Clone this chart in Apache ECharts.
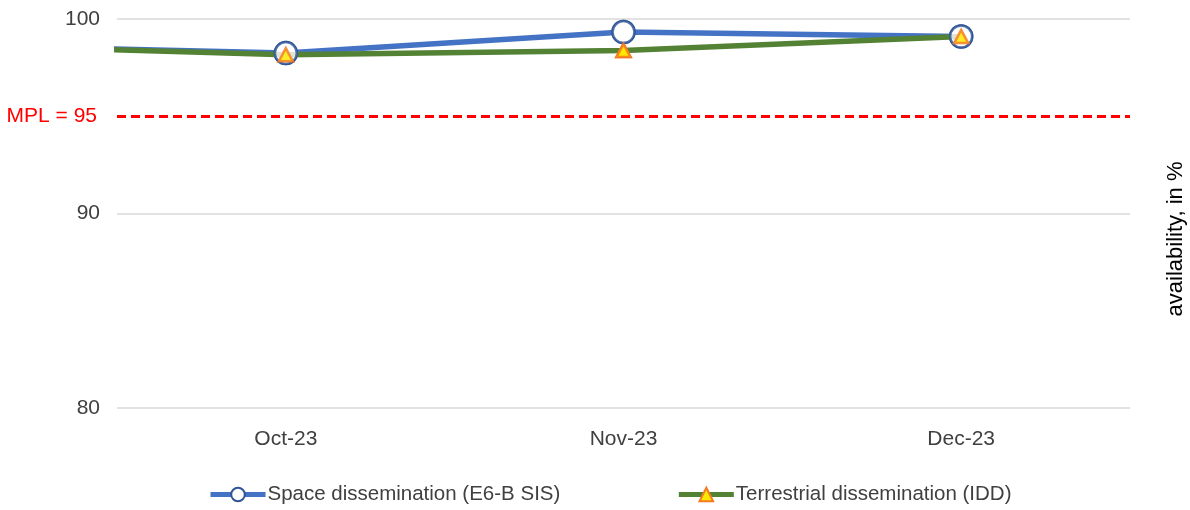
<!DOCTYPE html>
<html>
<head>
<meta charset="utf-8">
<script src="https://cdn.jsdelivr.net/npm/echarts@6/dist/echarts.min.js"></script>
<style>
html,body{margin:0;padding:0;background:#fff;}
#chart{width:1190px;height:510px;}
</style>
</head>
<body>
<div id="chart"></div>
<script>
// Periods: the first one (Sep-23) lies just outside the plotted window and is clipped
const periods = ['Sep-23', 'Oct-23', 'Nov-23', 'Dec-23'];
const shownCategories = ['Oct-23', 'Nov-23', 'Dec-23'];
const spaceValues = [98.65, 98.25, 99.33, 99.10];
const terrestrialValues = [98.68, 98.16, 98.38, 99.10];
const yTicks = [80, 90, 100];
const mplValue = 95;
const seriesNames = ['Space dissemination (E6-B SIS)', 'Terrestrial dissemination (IDD)'];

const FONT = '"Liberation Sans", Arial, sans-serif';
const TEXT = '#404040';

function toPoints(values) {
  const offset = periods.indexOf(shownCategories[0]);
  return values.map((v, i) => [i - offset, v]);
}
function shownPoints(values) {
  return toPoints(values).filter(p => p[0] >= 0);
}

const spaceSymbol = {
  symbol: 'circle',
  symbolSize: 22,
  itemStyle: { color: '#FFFFFF', borderColor: '#2F5597', borderWidth: 2.5 }
};
const terrSymbol = {
  symbol: 'triangle',
  symbolSize: [14, 13],
  itemStyle: { color: '#FFE800', borderColor: '#F47B20', borderWidth: 2.5 }
};

const chart = echarts.init(document.getElementById('chart'), null, { renderer: 'canvas' });
chart.setOption({
  animation: false,
  backgroundColor: '#FFFFFF',
  grid: { left: 117, right: 60, top: 19, bottom: 102, containLabel: false },
  xAxis: [
    {
      type: 'category',
      data: shownCategories,
      boundaryGap: true,
      axisLine: { show: false },
      axisTick: { show: false },
      splitLine: { show: false },
      axisLabel: { color: TEXT, fontSize: 21, fontFamily: FONT, margin: 21 }
    },
    {
      type: 'value',
      min: -0.5,
      max: shownCategories.length - 0.5,
      show: false,
      splitLine: { show: false }
    }
  ],
  yAxis: {
    type: 'value',
    min: yTicks[0],
    max: yTicks[yTicks.length - 1],
    interval: yTicks[1] - yTicks[0],
    axisLine: { show: false },
    axisTick: { show: false },
    axisLabel: { color: TEXT, fontSize: 21, fontFamily: FONT, margin: 17 },
    splitLine: { lineStyle: { color: '#D9D9D9', width: 1.5 } }
  },
  legend: {
    left: 203,
    top: 479,
    itemWidth: 55,
    itemHeight: 17,
    itemGap: 116,
    data: seriesNames,
    lineStyle: { width: 5 },
    textStyle: { color: TEXT, fontSize: 20.5, fontFamily: FONT, padding: [0, 0, 0, -3] }
  },
  graphic: [
    {
      type: 'text',
      x: 1176,
      y: 239,
      rotation: Math.PI / 2,
      style: {
        text: 'availability, in %',
        fill: '#000000',
        font: '22px ' + FONT,
        textAlign: 'center',
        textVerticalAlign: 'middle'
      }
    }
  ],
  series: [
    {
      name: seriesNames[0],
      type: 'line',
      xAxisIndex: 1,
      data: toPoints(spaceValues),
      clip: true,
      z: 2,
      ...spaceSymbol,
      lineStyle: { color: '#4472C4', width: 5.5 },
      color: '#4472C4',
      markLine: {
        silent: true,
        symbol: ['none', 'none'],
        lineStyle: { color: '#FF0000', type: [9, 5], width: 3 },
        label: {
          show: true,
          position: 'start',
          distance: 20,
          formatter: 'MPL = ' + mplValue,
          color: '#FF0000',
          fontSize: 21,
          fontFamily: FONT
        },
        data: [{ yAxis: mplValue }]
      }
    },
    {
      name: seriesNames[1],
      type: 'line',
      xAxisIndex: 1,
      data: toPoints(terrestrialValues),
      clip: true,
      z: 3,
      ...terrSymbol,
      lineStyle: { color: '#548235', width: 5.5 },
      color: '#548235'
    },
    {
      name: seriesNames[0] + ' markers',
      type: 'scatter',
      xAxisIndex: 1,
      data: shownPoints(spaceValues),
      z: 4,
      ...spaceSymbol
    },
    {
      name: seriesNames[1] + ' markers',
      type: 'scatter',
      xAxisIndex: 1,
      data: shownPoints(terrestrialValues),
      z: 5,
      ...terrSymbol
    }
  ]
});
</script>
</body>
</html>
